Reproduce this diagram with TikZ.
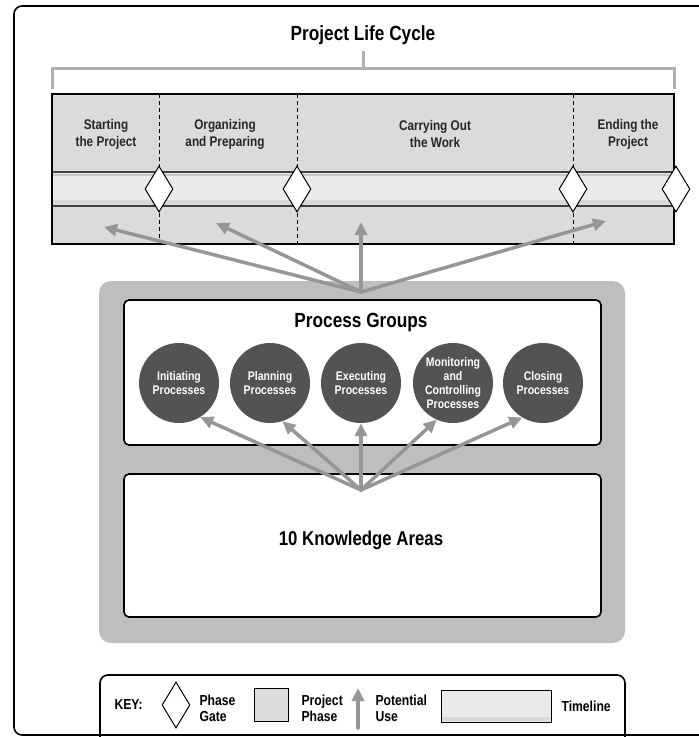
\documentclass[tikz,border=0pt]{standalone}
\usepackage{fontspec}
\setmainfont{Liberation Sans}[FakeStretch=0.84]
\definecolor{bandgray}{RGB}{218, 219, 220}
\definecolor{linegray}{RGB}{234, 234, 234}
\definecolor{usegray}{RGB}{150, 150, 150}
\definecolor{bracketgray}{RGB}{176, 176, 176}
\definecolor{panelgray}{RGB}{190, 190, 192}
\definecolor{procgray}{RGB}{83, 83, 85}
\usetikzlibrary{shapes.geometric, arrows.meta, positioning}

\begin{document}
\begin{tikzpicture}[x=1pt, y=-1pt,
  gate/.style={draw, fill=white, diamond, minimum width=28, minimum height=46, inner sep=0, line width=1},
  phaselbl/.style={align=center, font=\fontsize{14}{17}\selectfont\bfseries, text=black!85},
  proc/.style={circle, fill=procgray, minimum size=80, inner sep=0, align=center, text=white, font=\fontsize{12.5}{14}\selectfont\bfseries},
  box/.style={draw, line width=1.6, fill=white, rounded corners=5, minimum width=477},
  use/.style={draw=usegray, line width=3.5, -{Triangle[length=13pt, width=12pt]}, line cap=round},
  keytxt/.style={align=left, anchor=west, font=\fontsize{14.5}{16}\selectfont\bfseries}
]
  \clip (0,0) rectangle (699,737);

  % outer frame
  \draw[line width=1.6, rounded corners=8] (14,6) rectangle (730,735);

  % title and bracket
  \node[font=\fontsize{20.5}{22}\selectfont\bfseries] (title) at (363,35) {Project Life Cycle};
  \draw[bracketgray, line width=3] (52,89) |- (674,68) -- (674,89);
  \draw[bracketgray, line width=3] (363,51) -- (363,68);

  % phases band with timeline
  \fill[bandgray] (52,94) rectangle (674,244);
  \fill[linegray] (52,172) rectangle (674,206);
  \fill[black!15] (52,200) rectangle (674,205);
  \draw[black!75, line width=1.8] (52,172) -- (674,172);
  \draw[black!22, line width=1.5] (52,175) -- (674,175);
  \draw[black!75, line width=1.8] (52,206) -- (674,206);
  \foreach \x in {159, 297, 573}
    \draw[dash pattern=on 4pt off 3pt, line width=1] (\x,94) -- (\x,244);
  \draw[line width=1.6] (52,94) rectangle (674,244);

  \node[phaselbl] (start) at (106,134) {Starting\\the Project};
  \node[phaselbl] (organize) at (225,134) {Organizing\\and Preparing};
  \node[phaselbl] (carry) at (435,134) {Carrying Out\\the Work};
  \node[phaselbl] (finish) at (628,134) {Ending the\\Project};

  \node[gate] (g1) at (159,189) {};
  \node[gate] (g2) at (297,189) {};
  \node[gate] (g3) at (573,189) {};
  \node[gate] (g4) at (676,189) {};

  % process groups panel
  \fill[panelgray, rounded corners=12] (99,281) rectangle (625,643);
  \node[box, minimum height=145] (pg) at (362.5,372.5) {};
  \node[box, minimum height=143] (ka) at (362.5,545.5) {};
  \node[font=\fontsize{20.5}{22}\selectfont\bfseries] (pgtitle) at (361,322) {Process Groups};
  \node[font=\fontsize{20}{22}\selectfont\bfseries] (katitle) at (361,540) {10 Knowledge Areas};

  \node[proc] (init) at (179,383) {Initiating\\Processes};
  \node[proc] (plan) at (270,383) {Planning\\Processes};
  \node[proc] (exec) at (361,383) {Executing\\Processes};
  \node[proc] (moni) at (453,383) {Monitoring\\and\\Controlling\\Processes};
  \node[proc] (close) at (543,383) {Closing\\Processes};

  % potential use arrows
  \coordinate (hubtop) at (361,292);
  \coordinate (hubbot) at (361,490);
  \coordinate (use1) at (104,227);
  \coordinate (use2) at (216,223);
  \coordinate (use3) at (361,222);
  \coordinate (use4) at (606,221);
  \foreach \t in {use1, use2, use3, use4}
    \draw[use] (hubtop) -- (\t);
  \draw[use] (hubbot) -- (init.-58);
  \draw[use] (hubbot) -- (plan.-72);
  \draw[use] (hubbot) -- (exec.south);
  \draw[use] (hubbot) -- (moni.-114);
  \draw[use] (hubbot) -- (close.-121);

  % key
  \draw[line width=1.6, rounded corners=8] (100,675) rectangle (625,770);
  \node[keytxt] (key) at (111,705) {KEY:};
  \node[gate] (keygate) at (176,705) {};
  \node[keytxt] (gatetxt) at (196,708) {Phase\\Gate};
  \node[draw, line width=1, fill=bandgray, minimum width=34, minimum height=33] (keyphase) at (271,705) {};
  \node[keytxt] (phasetxt) at (298,708) {Project\\Phase};
  \coordinate (keyfoot) at (358,728);
  \coordinate (keyhead) at (358,688);
  \draw[use] (keyfoot) -- (keyhead);
  \node[keytxt] (usetxt) at (372,708) {Potential\\Use};
  \node[draw, line width=1, fill=linegray, minimum width=110, minimum height=32] (keyline) at (496,706) {};
  \fill[black!15] (442,717) rectangle (550,721);
  \node[keytxt] (linetxt) at (558,706) {Timeline};
\end{tikzpicture}
\end{document}
